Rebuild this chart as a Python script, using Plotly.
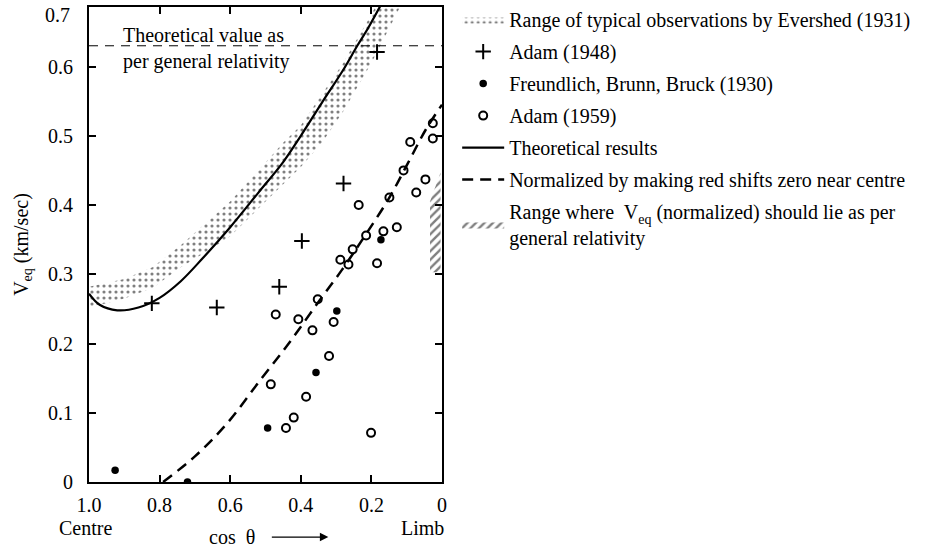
import plotly.graph_objects as go

# ---------------- data ----------------
# Evershed (1931) band: upper and lower edges
band_upper_cos = [1.0, 0.95, 0.90, 0.82, 0.74, 0.66, 0.60, 0.52, 0.45, 0.40, 0.34, 0.28, 0.24, 0.20, 0.17]
band_upper_v   = [0.282, 0.287, 0.293, 0.310, 0.342, 0.378, 0.405, 0.450, 0.490, 0.515, 0.560, 0.605, 0.640, 0.675, 0.705]
band_lower_cos = [1.0, 0.95, 0.90, 0.82, 0.74, 0.66, 0.60, 0.52, 0.45, 0.40, 0.34, 0.28, 0.24, 0.20, 0.16, 0.12, 0.10]
band_lower_v   = [0.253, 0.258, 0.265, 0.280, 0.310, 0.335, 0.355, 0.395, 0.430, 0.455, 0.490, 0.535, 0.570, 0.605, 0.645, 0.685, 0.705]

# Adam (1948)
adam48_cos = [0.184, 0.279, 0.397, 0.461, 0.638, 0.822]
adam48_v   = [0.621, 0.431, 0.348, 0.282, 0.252, 0.258]

# Freundlich, Brunn, Bruck (1930)
freund_cos = [0.926, 0.721, 0.494, 0.357, 0.298, 0.173]
freund_v   = [0.017, 0.000, 0.078, 0.158, 0.247, 0.350]

# Adam (1959)
adam59_cos = [0.471, 0.485, 0.442, 0.420, 0.385, 0.407, 0.367, 0.352, 0.320, 0.307, 0.288, 0.265,
              0.253, 0.236, 0.215, 0.184, 0.166, 0.149, 0.128, 0.109, 0.090, 0.073, 0.047, 0.026,
              0.026, 0.201]
adam59_v   = [0.242, 0.141, 0.078, 0.093, 0.123, 0.235, 0.219, 0.264, 0.182, 0.231, 0.321, 0.314,
              0.336, 0.400, 0.356, 0.316, 0.362, 0.411, 0.368, 0.450, 0.491, 0.418, 0.437, 0.496,
              0.518, 0.071]

# Theoretical results (solid)
theory_cos = [1.0, 0.97, 0.92, 0.86, 0.80, 0.74, 0.68, 0.60, 0.52, 0.45, 0.40, 0.34, 0.28, 0.24, 0.21, 0.17]
theory_v   = [0.272, 0.256, 0.248, 0.252, 0.266, 0.290, 0.322, 0.368, 0.418, 0.462, 0.500, 0.548, 0.595, 0.630, 0.655, 0.692]

# Normalized (dashed)
norm_cos = [0.79, 0.70, 0.61, 0.515, 0.43, 0.35, 0.284, 0.227, 0.15, 0.095, 0.047, 0.0]
norm_v   = [0.0, 0.037, 0.084, 0.147, 0.203, 0.260, 0.306, 0.349, 0.410, 0.462, 0.508, 0.545]

# Range where V_eq (normalized) should lie (hatched)
hatch_cos = [0.004, 0.034, 0.034, 0.004]
hatch_v   = [0.447, 0.405, 0.303, 0.303]

# GR theoretical value
gr_value = 0.630

x_tickvals = [1.0, 0.8, 0.6, 0.4, 0.2, 0.0]
x_ticktext = ["1.0", "0.8", "0.6", "0.4", "0.2", "0"]
y_tickvals = [0, 0.1, 0.2, 0.3, 0.4, 0.5, 0.6]
y_ticktext = ["0", "0.1", "0.2", "0.3", "0.4", "0.5", "0.6"]

FONT = "Liberation Serif"
FS = 20

fig = go.Figure()

fig.add_trace(go.Scatter(
    x=band_upper_cos + band_lower_cos[::-1], y=band_upper_v + band_lower_v[::-1],
    mode="lines", fill="toself", line=dict(width=0, color="rgba(0,0,0,0)"),
    fillcolor="rgba(255,255,255,0)",
    fillpattern=dict(shape=".", fgcolor="black", bgcolor="rgba(255,255,255,0)", size=6, solidity=0.22),
    name="Range of typical observations by Evershed (1931)", legendgroup="g1", legendrank=1))

fig.add_trace(go.Scatter(
    x=hatch_cos, y=hatch_v, mode="lines", fill="toself",
    line=dict(width=0, color="rgba(0,0,0,0)"), fillcolor="rgba(255,255,255,0)",
    fillpattern=dict(shape="/", fgcolor="black", bgcolor="rgba(255,255,255,0)", size=6, solidity=0.4),
    name="Range where  V<sub>eq</sub> (normalized) should lie as per<br>general relativity",
    legendgroup="g7", legendrank=7))

fig.add_trace(go.Scatter(
    x=[1.0, 0.0], y=[gr_value, gr_value], mode="lines",
    line=dict(color="black", width=1, dash="9px,7px"), showlegend=False, hoverinfo="skip"))

fig.add_trace(go.Scatter(
    x=theory_cos, y=theory_v, mode="lines", line=dict(color="black", width=2.2, shape="spline"),
    name="Theoretical results", legendgroup="g5", legendrank=5))

fig.add_trace(go.Scatter(
    x=norm_cos, y=norm_v, mode="lines", line=dict(color="black", width=2.5, dash="11px,7px", shape="spline"),
    name="Normalized by making red shifts zero near centre", legendgroup="g6", legendrank=6))

fig.add_trace(go.Scatter(
    x=adam48_cos, y=adam48_v, mode="markers",
    marker=dict(symbol="cross-thin", size=11, line=dict(color="black", width=2)),
    name="Adam (1948)", legendgroup="g2", legendrank=2))

fig.add_trace(go.Scatter(
    x=freund_cos, y=freund_v, mode="markers",
    marker=dict(symbol="circle", size=7.5, color="black"),
    name="Freundlich, Brunn, Bruck (1930)", legendgroup="g3", legendrank=3))

fig.add_trace(go.Scatter(
    x=adam59_cos, y=adam59_v, mode="markers",
    marker=dict(symbol="circle-open", size=8, color="black", line=dict(width=2, color="black")),
    name="Adam (1959)", legendgroup="g4", legendrank=4))

axis_common = dict(showline=True, linewidth=2, linecolor="black", mirror="ticks",
                   ticks="inside", ticklen=7, tickwidth=2, tickcolor="black",
                   showgrid=False, zeroline=False,
                   tickfont=dict(family=FONT, size=FS, color="black"))

fig.update_xaxes(range=[1.0, 0.0], tickmode="array", tickvals=x_tickvals, ticktext=x_ticktext,
                 ticklabelstandoff=4, **axis_common)
fig.update_yaxes(range=[0, 0.686], tickmode="array", tickvals=y_tickvals, ticktext=y_ticktext,
                 ticklabelstandoff=10,
                 title=dict(text="V<sub>eq</sub> (km/sec)", font=dict(family=FONT, size=FS, color="black"),
                            standoff=14),
                 **axis_common)

fig.update_layout(
    width=927, height=547,
    margin=dict(l=89, r=485, t=7, b=65, autoexpand=False),
    plot_bgcolor="white", paper_bgcolor="white",
    font=dict(family=FONT, size=FS, color="black"),
    legend=dict(x=1.043, y=1.0145, xanchor="left", yanchor="top", traceorder="grouped",
                tracegroupgap=3, font=dict(family=FONT, size=FS, color="black"),
                bgcolor="rgba(255,255,255,0)", itemwidth=42),
    annotations=[
        dict(text="Theoretical value as<br>per general relativity", xref="paper", yref="paper",
             x=0.09, y=0.912, xanchor="left", yanchor="middle", align="left", showarrow=False,
             font=dict(family=FONT, size=FS)),
        dict(text="0.7", xref="paper", yref="paper", x=0, y=1, xanchor="right", yanchor="middle",
             xshift=-17, yshift=-8, showarrow=False, font=dict(family=FONT, size=FS)),
        dict(text="Centre", xref="paper", yref="paper", x=-0.0085, y=-0.097, xanchor="center",
             yanchor="middle", showarrow=False, font=dict(family=FONT, size=FS)),
        dict(text="Limb", xref="paper", yref="paper", x=0.945, y=-0.097, xanchor="center",
             yanchor="middle", showarrow=False, font=dict(family=FONT, size=FS)),
        dict(text="cos  θ", xref="paper", yref="paper", x=0.405, y=-0.116, xanchor="center",
             yanchor="middle", showarrow=False, font=dict(family=FONT, size=FS)),
        dict(text="", xref="paper", yref="paper", x=0.678, y=-0.116, ax=-58, ay=0,
             showarrow=True, arrowhead=2, arrowsize=1.3, arrowwidth=1.3, arrowcolor="black"),
    ],
)

fig.write_html("out.html", config={"displayModeBar": False},
               post_script="document.body.style.margin='0px';")
